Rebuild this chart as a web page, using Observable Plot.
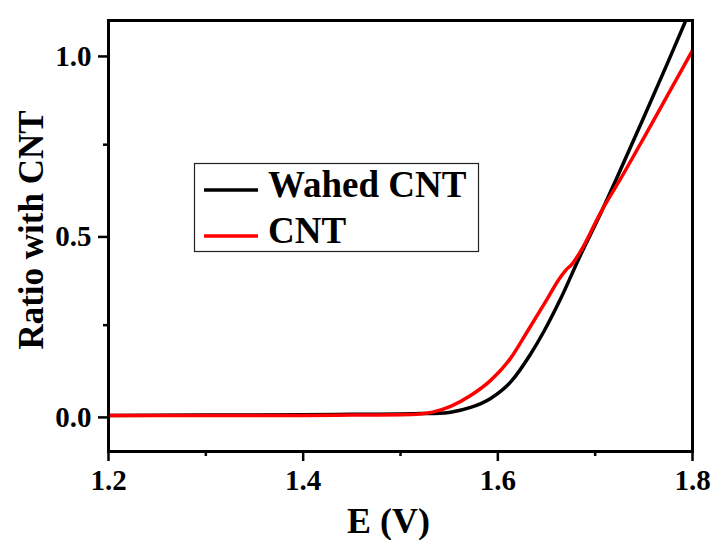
<!DOCTYPE html>
<html>
<head>
<meta charset="utf-8">
<script src="https://cdn.jsdelivr.net/npm/d3@7"></script>
<script src="https://cdn.jsdelivr.net/npm/@observablehq/plot@0.6"></script>
<style>
  html, body { margin: 0; padding: 0; background: #fff; }
  #chart { width: 713px; height: 540px; }
</style>
</head>
<body>
<div id="chart"></div>
<script>
// Polarization curves: potential E (V) vs ratio
const seriesNames = ["Wahed CNT", "CNT"];
const seriesColors = ["#000000", "#ff0000"];

const washedE = [1.2, 1.3, 1.4, 1.45, 1.5, 1.52, 1.54, 1.5515, 1.572, 1.5926, 1.613, 1.6337, 1.647, 1.6645, 1.6851, 1.704, 1.7206, 1.75, 1.775, 1.795];
const washedR = [0, 0.001, 0.002, 0.003, 0.004, 0.005, 0.006, 0.009, 0.022, 0.047, 0.092, 0.17, 0.231, 0.323, 0.445, 0.55, 0.648, 0.826, 0.98, 1.106];

const cntE = [1.2, 1.3, 1.4, 1.45, 1.5, 1.52, 1.5329, 1.5515, 1.572, 1.5926, 1.613, 1.63, 1.6508, 1.663, 1.6697, 1.6765, 1.6851, 1.7056, 1.726, 1.75, 1.775, 1.8];
const cntR = [0, 0, 0, 0.001, 0.002, 0.004, 0.009, 0.025, 0.055, 0.097, 0.158, 0.231, 0.323, 0.378, 0.402, 0.42, 0.455, 0.562, 0.655, 0.769, 0.89, 1.011];

const xMajor = [1.2, 1.4, 1.6, 1.8];
const xMinor = [1.3, 1.5, 1.7];
const yMajor = [0, 0.5, 1.0];
const yMinor = [0.25, 0.75];

const washed = washedE.map((e, i) => ({E: e, R: washedR[i]}));
const cnt = cntE.map((e, i) => ({E: e, R: cntR[i]}));

const serif = "'Liberation Serif', 'Times New Roman', 'DejaVu Serif', serif";
const fmt = d3.format(".1f");

const chart = Plot.plot({
  width: 713,
  height: 540,
  marginLeft: 108,
  marginRight: 21,
  marginTop: 20,
  marginBottom: 89,
  style: {fontFamily: serif, fontWeight: "bold", fontSize: "28px", background: "#fff", overflow: "visible"},
  x: {domain: [1.2, 1.8]},
  y: {domain: [-0.1, 1.094]},
  marks: [
    Plot.axisX({ticks: xMajor, tickSize: 10, tickPadding: 8, tickFormat: fmt, strokeWidth: 2.5, fontSize: 29, fontWeight: "bold", label: null}),
    Plot.axisX({ticks: xMinor, tickSize: 5, text: null, strokeWidth: 2.5, label: null}),
    Plot.axisY({ticks: yMajor, tickSize: 10, tickPadding: 7, tickFormat: fmt, strokeWidth: 2.5, fontSize: 29, fontWeight: "bold", dy: 2, label: null}),
    Plot.axisY({ticks: yMinor, tickSize: 5, text: null, strokeWidth: 2.5, label: null}),
    Plot.line(washed, {x: "E", y: "R", stroke: seriesColors[0], strokeWidth: 3.5, curve: "monotone-x", clip: true}),
    Plot.line(cnt, {x: "E", y: "R", stroke: seriesColors[1], strokeWidth: 3.5, curve: "monotone-x", clip: true}),
    Plot.frame({stroke: "black", strokeWidth: 3}),
    Plot.text(["E (V)"], {frameAnchor: "bottom", textAnchor: "middle", lineAnchor: "middle", dy: 70, dx: -12, fontSize: 36, fontWeight: "bold"}),
    Plot.text(["Ratio with CNT"], {frameAnchor: "left", textAnchor: "middle", lineAnchor: "middle", rotate: -90, dx: -77, dy: -6, fontSize: 35, fontWeight: "bold"})
  ]
});

document.getElementById("chart").appendChild(chart);

// Legend box drawn inside the plot area
const svg = d3.select(chart);
const legend = svg.append("g").attr("class", "legend");
legend.append("rect")
  .attr("x", 194.5).attr("y", 163.5)
  .attr("width", 284).attr("height", 88)
  .attr("fill", "#fff").attr("stroke", "#222").attr("stroke-width", 1.2);
seriesNames.forEach((name, i) => {
  const cy = 190 + i * 46;
  legend.append("line")
    .attr("x1", 204).attr("x2", 258)
    .attr("y1", cy).attr("y2", cy)
    .attr("stroke", seriesColors[i]).attr("stroke-width", 3.5);
  legend.append("text")
    .attr("x", 268).attr("y", cy + 7)
    .style("font-family", serif).style("font-weight", "bold")
    .style("font-size", "37px").style("text-anchor", "start")
    .attr("fill", "#000")
    .text(name);
});
</script>
</body>
</html>
